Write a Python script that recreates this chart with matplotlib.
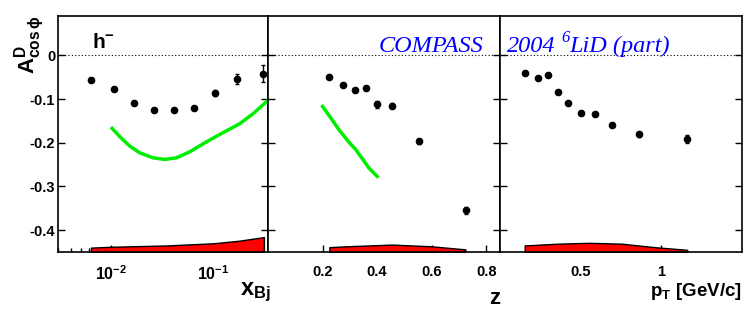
import matplotlib
matplotlib.use("Agg")
import matplotlib.pyplot as plt
from matplotlib.ticker import FixedLocator, LogLocator, NullFormatter, NullLocator

plt.rcParams['font.family'] = ['Liberation Sans', 'DejaVu Sans']
plt.rcParams['font.weight'] = 'bold'
plt.rcParams['mathtext.fontset'] = 'custom'
plt.rcParams['mathtext.rm'] = 'Liberation Sans:bold'
plt.rcParams['mathtext.bf'] = 'Liberation Sans:bold'

# x_Bj panel
xbj = [0.00637, 0.0106, 0.0168, 0.0261, 0.0406, 0.0641, 0.104, 0.169, 0.301]
a_xbj = [-0.056, -0.076, -0.110, -0.124, -0.124, -0.120, -0.087, -0.054, -0.042]
e_xbj = [0.004, 0.004, 0.004, 0.004, 0.004, 0.004, 0.007, 0.012, 0.020]
th_xbj_x = [0.01014, 0.01205, 0.0151, 0.0189, 0.0255, 0.0332, 0.0432, 0.0582,
            0.0849, 0.1233, 0.1795, 0.242, 0.34]
th_xbj_y = [-0.167, -0.186, -0.2076, -0.223, -0.2345, -0.2382, -0.2345, -0.221,
            -0.198, -0.177, -0.1565, -0.134, -0.103]
sys_xbj_x = [0.0063, 0.01, 0.035, 0.1, 0.18, 0.31]
sys_xbj_y = [-0.440, -0.438, -0.435, -0.430, -0.424, -0.416]

# z panel
z = [0.2245, 0.2755, 0.319, 0.359, 0.400, 0.453, 0.553, 0.724]
a_z = [-0.049, -0.067, -0.079, -0.075, -0.112, -0.115, -0.197, -0.355]
e_z = [0.004, 0.004, 0.004, 0.004, 0.008, 0.005, 0.005, 0.008]
th_z_x = [0.2, 0.23, 0.261, 0.297, 0.322, 0.345, 0.37, 0.4]
th_z_y = [-0.117, -0.143, -0.171, -0.199, -0.216, -0.236, -0.258, -0.277]
sys_z_x = [0.225, 0.285, 0.455, 0.600, 0.723]
sys_z_y = [-0.439, -0.437, -0.433, -0.437, -0.444]

# pT panel
pt = [0.153, 0.235, 0.30, 0.357, 0.421, 0.50, 0.588, 0.694, 0.86, 1.16]
a_pt = [-0.040, -0.053, -0.044, -0.084, -0.109, -0.132, -0.134, -0.159, -0.181, -0.191]
e_pt = [0.004, 0.004, 0.004, 0.004, 0.004, 0.004, 0.004, 0.004, 0.005, 0.009]
sys_pt_x = [0.153, 0.355, 0.551, 0.755, 0.96, 1.16]
sys_pt_y = [-0.435, -0.431, -0.429, -0.431, -0.439, -0.445]

ymin, ymax = -0.45, 0.09

fig = plt.figure(figsize=(7.47, 3.15), dpi=100)
W, H = 747.0, 315.0
bot = 1 - 252 / H
hgt = (252 - 16) / H
ax1 = fig.add_axes([58 / W, bot, 210 / W, hgt])
ax2 = fig.add_axes([268 / W, bot, 232 / W, hgt])
ax3 = fig.add_axes([500 / W, bot, 242 / W, hgt])

panels = [
    (ax1, xbj, a_xbj, e_xbj, sys_xbj_x, sys_xbj_y),
    (ax2, z, a_z, e_z, sys_z_x, sys_z_y),
    (ax3, pt, a_pt, e_pt, sys_pt_x, sys_pt_y),
]
for ax, x, y, e, sx, sy in panels:
    ax.fill_between(sx, ymin, sy, facecolor='#ff0000', edgecolor='black', lw=1, zorder=2)
    ax.errorbar(x, y, yerr=e, fmt='o', color='black', ms=4.5, capsize=1.5,
                elinewidth=1, zorder=4)
    ax.axhline(0, color='black', ls=(0, (1, 2)), lw=0.8, zorder=1)
    ax.set_ylim(ymin, ymax)
    ax.yaxis.set_major_locator(FixedLocator([0, -0.1, -0.2, -0.3, -0.4]))
    ax.yaxis.set_minor_locator(NullLocator())
    ax.tick_params(axis='both', which='major', direction='in', length=5, width=1,
                   right=True, labelsize=10.5)
    ax.tick_params(axis='x', pad=9)
    for s in ax.spines.values():
        s.set_linewidth(1.2)
    if ax is not ax1:
        ax.tick_params(axis='y', labelleft=False)

ax1.plot(th_xbj_x, th_xbj_y, color='#00ee00', lw=2.5, zorder=3)
ax2.plot(th_z_x, th_z_y, color='#00ee00', lw=2.5, zorder=3)

ax1.set_xscale('log')
ax1.set_xlim(0.003, 0.34)
ax1.xaxis.set_major_locator(FixedLocator([0.01, 0.1]))
ax1.set_xticklabels([r'$\mathbf{10^{-2}}$', r'$\mathbf{10^{-1}}$'])
ax1.xaxis.set_minor_locator(LogLocator(subs=range(2, 10)))
ax1.xaxis.set_minor_formatter(NullFormatter())
ax1.tick_params(axis='x', which='minor', direction='in', length=3, width=1)
ax1.tick_params(axis='x', which='major', labelsize=11.5)
ax1.set_yticklabels(['0', '-0.1', '-0.2', '-0.3', '-0.4'])
ax1.tick_params(axis='y', pad=2)

ax2.set_xlim(0, 0.85)
ax2.xaxis.set_major_locator(FixedLocator([0.2, 0.4, 0.6, 0.8]))
ax2.set_xticklabels(['0.2', '0.4', '0.6', '0.8'])

ax3.set_xlim(0, 1.5)
ax3.xaxis.set_major_locator(FixedLocator([0.5, 1.0]))
ax3.set_xticklabels(['0.5', '1'])

ax1.text(0.16, 0.93, r'$\mathbf{h^{-}}$', transform=ax1.transAxes, fontsize=15,
         ha='left', va='top')

serif = dict(family='Liberation Serif', style='italic', weight='normal', color='#0000ff')
fig.text(379 / W, 1 - 52 / H, 'COMPASS', fontsize=17.5, ha='left', va='baseline', **serif)
fig.text(507 / W, 1 - 52 / H, '2004', fontsize=17.5, ha='left', va='baseline', **serif)
fig.text(561 / W, 1 - 42 / H, '6', fontsize=12, ha='left', va='baseline', **serif)
fig.text(569 / W, 1 - 52 / H, 'LiD (part)', fontsize=17.5, ha='left', va='baseline', **serif)

fig.text(30 / W, 1 - 15 / H, r'$\mathbf{A^{D}_{cos\,\phi}}$', rotation=90,
         fontsize=16, ha='center', va='top')
fig.text(271 / W, 1 - 292 / H, r'$\mathbf{x_{Bj}}$', fontsize=17, ha='right', va='center')
fig.text(500 / W, 1 - 298 / H, 'z', fontsize=16, ha='right', va='center')
fig.text(742 / W, 1 - 291 / H, r'p$_{\mathbf{T}}$ [GeV/c]', fontsize=13.5,
         ha='right', va='center')

fig.savefig('out.png', dpi=100)
